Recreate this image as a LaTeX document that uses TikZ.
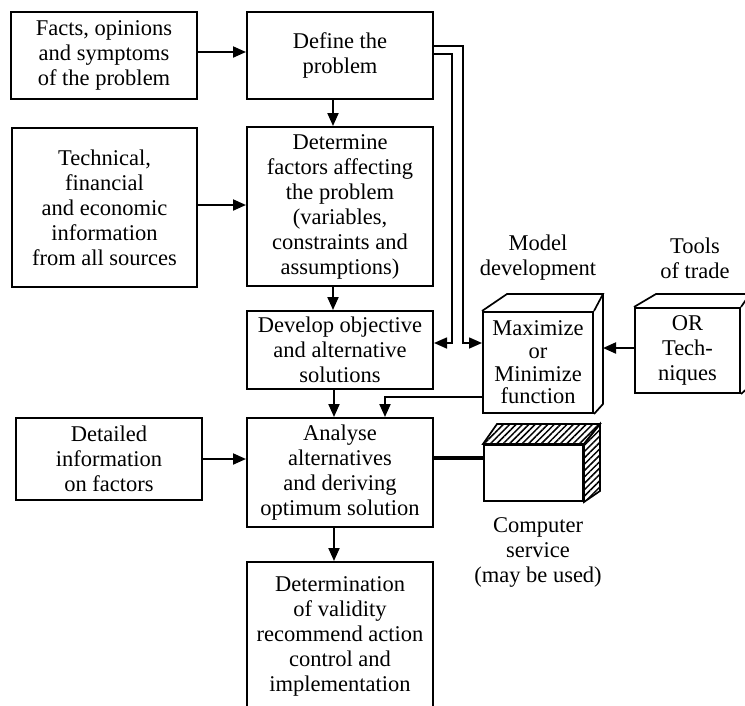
\documentclass[tikz,border=0pt]{standalone}
\usepackage{fontspec}
\setmainfont{Liberation Serif}
\usetikzlibrary{arrows.meta,patterns.meta}
\begin{document}
\begin{tikzpicture}[x=1pt,y=-1pt,
  box/.style={draw,line width=2pt,align=center,inner sep=0pt,
    font=\fontsize{22.5}{25}\selectfont},
  arr/.style={line width=2pt,-{Triangle[length=13pt,width=11pt]}},
  edge3d/.style={line width=1.7pt,line join=miter},
  hatch/.style={edge3d,pattern={Lines[angle=45,distance=4.5pt,line width=1.5pt]}},
  lbl/.style={align=center,inner sep=0pt,font=\fontsize{22.5}{25}\selectfont}]
\useasboundingbox (0,0) rectangle (745,705);

% main column
\node[box,minimum width=186pt,minimum height=87pt]  (def)   at (340,55.5)  {Define the\\problem};
\node[box,minimum width=186pt,minimum height=159pt] (detm)  at (340,206.5) {Determine\\factors affecting\\the problem\\(variables,\\constraints and\\assumptions)};
\node[box,minimum width=186pt,minimum height=78pt]  (dev)   at (340,350)   {Develop objective\\and alternative\\solutions};
\node[box,minimum width=186pt,minimum height=109pt] (anal)  at (340,472.5) {Analyse\\alternatives\\and deriving\\optimum solution};
\node[box,minimum width=186pt,minimum height=148pt] (valid) at (340,636)   {Determination\\of validity\\recommend action\\control and\\implementation};

% inputs on the left
\node[box,minimum width=186pt,minimum height=87pt]  (facts) at (104,55.5)  {Facts, opinions\\and symptoms\\of the problem};
\node[box,minimum width=185pt,minimum height=159pt] (tech)  at (104.5,207.5) {Technical,\\financial\\and economic\\information\\from all sources};
\node[box,minimum width=186pt,minimum height=82pt]  (detl)  at (109,459)   {Detailed\\information\\on factors};

% model, tools and computer blocks
\node[box,minimum width=110pt,minimum height=101pt,font=\fontsize{22.5}{22.7}\selectfont] (maxf) at (538,362.5) {Maximize\\or\\Minimize\\function};
\node[box,minimum width=105pt,minimum height=85pt] (ortb) at (687.5,350.5) {OR\\Tech-\\niques};
\node[box,minimum width=99pt,minimum height=56pt]  (comp) at (533.5,473) {};

\draw[edge3d] (maxf.north west) -- ++(25,-17) -- ([shift={(9,-17)}]maxf.north east) -- (maxf.north east);
\draw[edge3d] (maxf.north east) ++(9,-17) -- ([shift={(9,-10)}]maxf.south east) -- (maxf.south east);
\draw[edge3d] (ortb.north west) -- ++(22,-13) -- ([shift={(9,-13)}]ortb.north east) -- (ortb.north east);
\draw[edge3d] (ortb.north east) ++(9,-13) -- ([shift={(9,-8)}]ortb.south east) -- (ortb.south east);
\draw[hatch] (comp.north west) -- ++(14,-20) -- ([shift={(16,-20)}]comp.north east) -- (comp.north east) -- cycle;
\draw[hatch] (comp.north east) -- ++(16,-20) -- ([shift={(16,-11)}]comp.south east) -- (comp.south east) -- cycle;

% captions
\node[lbl] (mdl)  at (538,258) {Model\\development};
\node[lbl] (tls)  at (695,258) {Tools\\of trade};
\node[lbl] (csv)  at (538,552) {Computer\\service\\(may be used)};

% flow down the main column
\draw[arr] ([xshift=-7pt]def.south)  -- ([xshift=-7pt]detm.north);
\draw[arr] ([xshift=-7pt]detm.south) -- ([xshift=-7pt]dev.north);
\draw[arr] ([xshift=-6pt]dev.south)  -- ([xshift=-6pt]anal.north);
\draw[arr] ([xshift=-6pt]anal.south) -- ([xshift=-6pt]valid.north);

% inputs
\draw[arr] ([yshift=3.5pt]facts.east) -- ([yshift=3.5pt]facts.east -| def.west);
\draw[arr] ([yshift=2.5pt]tech.east)  -- ([yshift=2.5pt]tech.east -| detm.west);
\draw[arr] (detl.east) -- (detl.east -| anal.west);

% double feed from the problem definition
\coordinate (kO) at (463,343);
\coordinate (kI) at (452,343);
\draw[arr,line width=1.6pt] ([yshift=9.5pt]def.east) -| (kO) -- (kO -| maxf.west);
\draw[arr,line width=1.6pt] ([yshift=1.5pt]def.east) -| (kI) -- (kI -| dev.east);

% model to analysis, tools to model, computer link
\draw[arr] ([yshift=-34.5pt]maxf.west) -| ([xshift=45pt]anal.north);
\draw[arr] ([yshift=2.5pt]ortb.west) -- ([shift={(9,-14.5)}]maxf.east);
\draw[line width=3.2pt] ([yshift=15pt]comp.west) -- ([yshift=15pt]comp.west -| anal.east);
\end{tikzpicture}
\end{document}
